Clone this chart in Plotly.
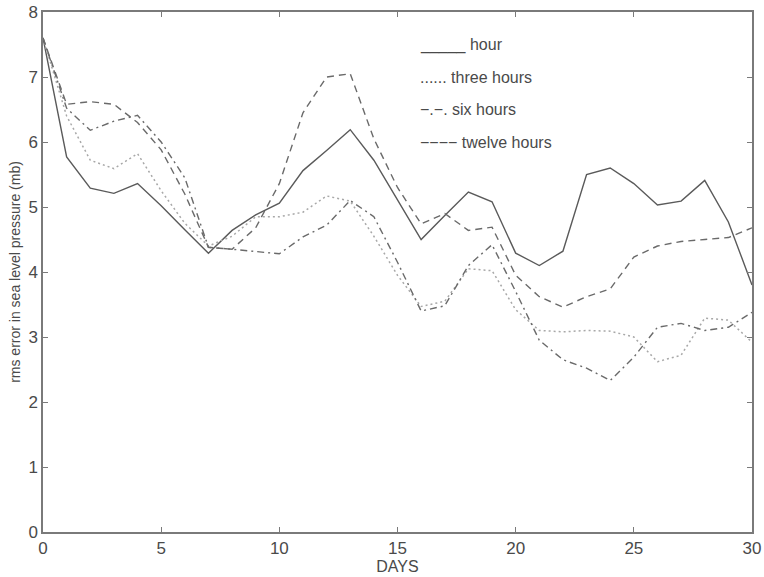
import plotly.graph_objects as go

days = list(range(0, 31))

hour = [7.60, 5.77, 5.29, 5.21, 5.36, 5.02, 4.65, 4.29, 4.64, 4.88, 5.06,
        5.56, 5.87, 6.19, 5.72, 5.10, 4.50, 4.87, 5.23, 5.08, 4.29, 4.10,
        4.32, 5.50, 5.60, 5.36, 5.03, 5.09, 5.41, 4.77, 3.80]

three_hours = [7.60, 6.40, 5.72, 5.59, 5.82, 5.25, 4.75, 4.40, 4.55, 4.85, 4.85,
               4.92, 5.17, 5.09, 4.55, 3.95, 3.47, 3.55, 4.05, 4.02, 3.42, 3.10,
               3.08, 3.10, 3.09, 3.00, 2.62, 2.72, 3.29, 3.26, 2.92]

six_hours = [7.60, 6.52, 6.18, 6.32, 6.41, 6.00, 5.45, 4.38, 4.35, 4.32, 4.28,
             4.54, 4.72, 5.10, 4.85, 4.15, 3.40, 3.48, 4.10, 4.42, 3.70, 2.95,
             2.65, 2.52, 2.33, 2.69, 3.15, 3.21, 3.10, 3.15, 3.38]

twelve_hours = [7.60, 6.58, 6.62, 6.58, 6.30, 5.88, 5.20, 4.38, 4.35, 4.68, 5.36,
                6.45, 7.00, 7.05, 6.05, 5.30, 4.74, 4.90, 4.64, 4.69, 3.95, 3.62,
                3.46, 3.62, 3.74, 4.23, 4.40, 4.47, 4.50, 4.53, 4.68]

legend_labels = ["_____ hour", "...... three hours", "\u2212.\u2212. six hours",
                 "\u2212\u2212\u2212\u2212 twelve hours"]
legend_y = [7.5, 7.0, 6.5, 6.0]

FONT = "Liberation Sans, Arial, Helvetica, sans-serif"
INK = "#4a4a4a"

fig = go.Figure()
series = [
    (hour, dict(color="#5a5a5a", width=1.4, dash="solid")),
    (three_hours, dict(color="#a8a8a8", width=1.5, dash="2px,3px")),
    (six_hours, dict(color="#6a6a6a", width=1.4, dash="7px,4px,2px,4px")),
    (twelve_hours, dict(color="#6a6a6a", width=1.4, dash="7px,5px")),
]
for vals, line in series:
    fig.add_trace(go.Scatter(x=days, y=vals, mode="lines", line=line,
                             showlegend=False, hoverinfo="skip"))

# text-style key in the upper middle of the plot
for text, yv in zip(legend_labels, legend_y):
    fig.add_annotation(x=15.85, y=yv, xref="x", yref="y", text=text,
                       showarrow=False, xanchor="left", yanchor="middle",
                       font=dict(family=FONT, size=16, color=INK))

axis_common = dict(
    showline=True, linecolor="#7a7a7a", linewidth=1.5, mirror="ticks",
    ticks="inside", ticklen=5, tickcolor="#7a7a7a", tickwidth=1,
    showgrid=False, zeroline=False, automargin=False,
    tickfont=dict(family=FONT, size=17, color=INK),
)

fig.update_xaxes(range=[0, 30], tickvals=[0, 5, 10, 15, 20, 25, 30],
                 title=dict(text="DAYS", standoff=2,
                            font=dict(family=FONT, size=16, color=INK)),
                 **axis_common)
fig.update_yaxes(range=[0, 8], tickvals=list(range(0, 9)),
                 title=dict(text="rms error in sea level pressure (mb)", standoff=4,
                            font=dict(family=FONT, size=14, color=INK)),
                 **axis_common)

fig.update_layout(
    width=764, height=577,
    margin=dict(l=43, r=12, t=12, b=45),
    paper_bgcolor="white", plot_bgcolor="white",
    font=dict(family=FONT, color=INK),
)

fig.write_html("out.html")
